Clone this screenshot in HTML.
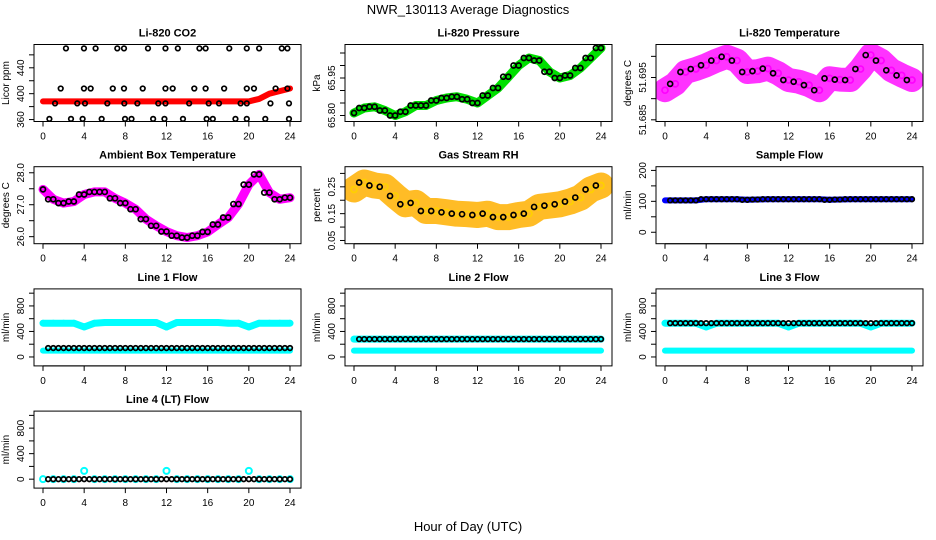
<!DOCTYPE html>
<html><head><meta charset="utf-8"><style>
html,body{margin:0;padding:0;background:#fff}
svg{display:block;font-family:"Liberation Sans",Arial,sans-serif}
</style></head><body>
<svg id="c" width="936" height="540" viewBox="0 0 936 540" xmlns="http://www.w3.org/2000/svg">
<defs id="defs"></defs>
<text x="468" y="14" font-size="13" text-anchor="middle">NWR_130113  Average Diagnostics</text>
<text x="468" y="531" font-size="13" text-anchor="middle">Hour of Day (UTC)</text>
</svg>
<script>
// ---- data ----
const hours = [0,1,2,3,4,5,6,7,8,9,10,11,12,13,14,15,16,17,18,19,20,21,22,23,24];
const xTicks = [0,4,8,12,16,20,24];

const co2RedV = [388,388,388,388,388,388,388,388,388,388,388,388,388,388,388,388,388,388,388,388,388,392,400,404,408];
const co2BlackT = [2.23,3.98,5.11,7.22,7.87,10.2,11.9,13.1,15.2,15.8,18.1,19.8,21.0,23.2,23.75,
 1.72,3.98,4.63,6.78,7.87,9.69,11.9,12.6,14.7,15.8,17.6,19.8,20.5,22.6,23.75,
 1.17,3.33,4.08,6.25,7.9,9.17,11.2,11.9,14.2,16.1,17.1,19.2,19.8,22.1,23.9,
 0.62,2.72,3.85,5.7,7.97,8.6,10.7,11.8,13.6,15.9,16.5,18.7,19.8,21.6,23.9];
const co2BlackV = [470,470,470,470,470,470,470,470,470,470,470,470,470,470,470,
 408,408,408,408,408,408,408,408,408,408,408,408,408,408,408,
 385,385,385,385,385,385,385,385,385,385,385,385,385,385,385,
 361,361,361,361,361,361,361,361,361,361,361,361,361,361,361];

const presV = [65.81,65.83,65.835,65.82,65.80,65.815,65.84,65.84,65.86,65.87,65.875,65.865,65.85,65.88,65.91,65.955,66.00,66.03,66.02,65.975,65.95,65.96,65.99,66.03,66.07];
const tempV = [51.692,51.6935,51.6963,51.697,51.6979,51.699,51.6999,51.699,51.6963,51.6965,51.6971,51.696,51.6944,51.694,51.6932,51.692,51.6948,51.6945,51.6944,51.697,51.7003,51.699,51.6967,51.6955,51.6944];
const ambV = [27.48,27.17,27.05,27.1,27.32,27.4,27.4,27.2,27.05,26.86,26.55,26.34,26.16,26.03,25.97,26.03,26.15,26.38,26.6,27.02,27.63,27.95,27.38,27.17,27.22];
const rhV = [0.24,0.266,0.255,0.25,0.216,0.185,0.19,0.16,0.16,0.155,0.15,0.148,0.145,0.15,0.137,0.137,0.145,0.15,0.175,0.18,0.185,0.195,0.21,0.24,0.255];
const sampleV = [103,103,103,103,107,107,107,107,105,106,107,107,107,107,107,107,105,106,107,107,107,107,107,107,107];
const l1CyanHi = [530,530,530,530,470,530,540,540,540,540,540,540,470,540,540,540,540,540,530,530,470,530,530,530,530];
const l1CyanLo = [100,100,100,100,100,100,100,100,100,100,100,100,100,100,100,100,100,100,100,100,100,100,100,100,100];
const l1Black = [140,140,140,140,140,140,140,140,140,140,140,140,140,140,140,140,140,140,140,140,140,140,140,140,140];
const l2CyanHi = [280,280,280,280,280,280,280,280,280,280,280,280,280,280,280,280,280,280,280,280,280,280,280,280,280];
const l2CyanLo = [100,100,100,100,100,100,100,100,100,100,100,100,100,100,100,100,100,100,100,100,100,100,100,100,100];
const l2Black = [280,280,280,280,280,280,280,280,280,280,280,280,280,280,280,280,280,280,280,280,280,280,280,280,280];
const l3CyanHi = [530,530,530,530,470,530,530,530,530,530,530,530,470,530,530,530,530,530,530,530,470,530,530,530,530];
const l3CyanLo = [100,100,100,100,100,100,100,100,100,100,100,100,100,100,100,100,100,100,100,100,100,100,100,100,100];
const l3Black = [530,530,530,530,530,530,530,530,530,530,530,530,530,530,530,530,530,530,530,530,530,530,530,530,530];
const l4Cyan = [0,0,0,0,130,0,0,0,0,0,0,0,130,0,0,0,0,0,0,0,130,0,0,0,0];
const l4Black = [0,0,0,0,0,0,0,0,0,0,0,0,0,0,0,0,0,0,0,0,0,0,0,0,0];

const flowTicks=[0,200,400,600,800,1000], flowLabels=[0,400,800];
const panels = [
 {name:'co2',title:'Li-820 CO2',yl:'Licor ppm',col:0,row:0,ylim:[357,476],ticks:[360,380,400,420,440,460],labels:[360,400,440],fmt:0},
 {name:'pressure',title:'Li-820 Pressure',yl:'kPa',col:1,row:0,ylim:[65.776,66.084],ticks:[65.80,65.85,65.90,65.95,66.00,66.05],labels:[65.80,65.95],fmt:2},
 {name:'temperature',title:'Li-820 Temperature',yl:'degrees C',col:2,row:0,ylim:[51.6846,51.7028],ticks:[51.685,51.69,51.695,51.70],labels:[51.685,51.695],fmt:3},
 {name:'ambient',title:'Ambient Box Temperature',yl:'degrees C',col:0,row:1,ylim:[25.78,28.19],ticks:[26,26.5,27,27.5,28],labels:[26,27,28],fmt:1},
 {name:'rh',title:'Gas Stream RH',yl:'percent',col:1,row:1,ylim:[0.038,0.325],ticks:[0.05,0.10,0.15,0.20,0.25,0.30],labels:[0.05,0.15,0.25],fmt:2},
 {name:'sample-flow',title:'Sample Flow',yl:'ml/min',col:2,row:1,ylim:[-37,212],ticks:[0,50,100,150,200],labels:[0,100,200],fmt:0},
 {name:'line1',title:'Line 1 Flow',yl:'ml/min',col:0,row:2,ylim:[-140,1067],ticks:flowTicks,labels:flowLabels,fmt:0},
 {name:'line2',title:'Line 2 Flow',yl:'ml/min',col:1,row:2,ylim:[-140,1067],ticks:flowTicks,labels:flowLabels,fmt:0},
 {name:'line3',title:'Line 3 Flow',yl:'ml/min',col:2,row:2,ylim:[-140,1067],ticks:flowTicks,labels:flowLabels,fmt:0},
 {name:'line4',title:'Line 4 (LT) Flow',yl:'ml/min',col:0,row:3,ylim:[-140,1067],ticks:flowTicks,labels:flowLabels,fmt:0}
];
const NS='http://www.w3.org/2000/svg';
const svg=document.getElementById('c');
const defs=document.getElementById('defs');
function mk(tag,attrs,parent){const e=document.createElementNS(NS,tag);for(const k in attrs)e.setAttribute(k,attrs[k]);(parent||svg).appendChild(e);return e;}

panels.forEach((p,i)=>{
 const L=[34,345,656][p.col], T=44.5+p.row*122.2, W=267, H=77;
 const g=mk('g',{});
 
 
 const cp=mk('clipPath',{id:'cp'+i},defs);
 mk('rect',{x:L,y:T,width:W,height:H},cp);
 p.g=mk('g',{'clip-path':'url(#cp'+i+')'},g);
 
 
 p.x=t=>L+9+t*(247/24);
 p.y=v=>T+H-(v-p.ylim[0])/(p.ylim[1]-p.ylim[0])*H;
 const ttl=mk('text',{x:L+W/2,y:T-8,'font-size':11,'font-weight':'bold','text-anchor':'middle'},g);ttl.textContent=p.title;
 
 
 const box=mk('rect',{x:L,y:T,width:W,height:H,fill:'none',stroke:'#000','stroke-width':1},g);
 
 
 const xa=mk('g',{},g);
 
 
 mk('line',{x1:p.x(0),x2:p.x(24),y1:T+H,y2:T+H,stroke:'#000'},xa);
 xTicks.forEach(t=>{mk('line',{x1:p.x(t),x2:p.x(t),y1:T+H,y2:T+H+5,stroke:'#000'},xa);
  const tx=mk('text',{x:p.x(t),y:T+H+18,'font-size':10,'text-anchor':'middle'},xa);tx.textContent=t;});
 const ya=mk('g',{},g);
 
 
 mk('line',{x1:L,x2:L,y1:p.y(p.ticks[0]),y2:p.y(p.ticks[p.ticks.length-1]),stroke:'#000'},ya);
 p.ticks.forEach(v=>mk('line',{x1:L-5,x2:L,y1:p.y(v),y2:p.y(v),stroke:'#000'},ya));
 p.labels.forEach(v=>{const yy=p.y(v);const tx=mk('text',{x:L-10,y:yy,'font-size':10,'text-anchor':'middle',transform:`rotate(-90 ${L-10} ${yy})`},ya);tx.textContent=v.toFixed(p.fmt);});
 const yt=mk('text',{x:L-25,y:T+H/2,'font-size':10,'text-anchor':'middle',transform:`rotate(-90 ${L-25} ${T+H/2})`},g);yt.textContent=p.yl;
 
 
});
function P(n){return panels.find(p=>p.name===n);}
function band(p,ts,vs,color,w,nm,op){
 const pts=ts.map((t,i)=>p.x(t).toFixed(1)+','+p.y(vs[i]).toFixed(1)).join(' ');
 const e=mk('polyline',{points:pts,fill:'none',stroke:color,'stroke-width':w,'stroke-linejoin':'round','stroke-linecap':'round',opacity:op||1},p.g);
 
 
}
function dots(p,ts,vs,color,r,nm,sw){
 const gg=mk('g',{},p.g);
 
 
 ts.forEach((t,i)=>mk('circle',{cx:p.x(t),cy:p.y(vs[i]),r:r,fill:'none',stroke:color,'stroke-width':sw||1.7},gg));
}
const hh=hours.slice(1).map(h=>h-0.5);
function mid(a){return a.slice(1);}

band(P('co2'),hours,co2RedV,'#ff0000',6,'co2-red-series');
dots(P('co2'),co2BlackT,co2BlackV,'#000',2.3,'co2-black-points');

band(P('pressure'),hours,presV,'#00e000',9,'pressure-green-series');
dots(P('pressure'),hours,presV,'#000',2.5,'pressure-black-points');
dots(P('pressure'),hh,mid(presV),'#000',2.5,'pressure-black-points-half');

band(P('temperature'),hours,tempV,'#ff00ff',24,'temperature-magenta-series',0.8);
dots(P('temperature'),hours,tempV,'#ff00ff',3,'temperature-magenta-points');
dots(P('temperature'),hh,mid(tempV),'#000',2.5,'temperature-black-points');

band(P('ambient'),hours,ambV,'#ff00ff',9,'ambient-magenta-series');
dots(P('ambient'),hours,ambV,'#000',2.5,'ambient-black-points');
dots(P('ambient'),hh,mid(ambV),'#000',2.5,'ambient-black-points-half');

band(P('rh'),hours,rhV,'#ffb000',26,'rh-orange-series',0.85);
dots(P('rh'),hours,rhV,'#ffd000',3,'rh-yellow-points');
dots(P('rh'),hh,mid(rhV),'#000',2.5,'rh-black-points');

band(P('sample-flow'),hours,sampleV,'#0000ff',6,'sample-flow-blue-series');
dots(P('sample-flow'),hh,mid(sampleV),'#000',2.3,'sample-flow-black-points');
dots(P('sample-flow'),hours.slice(1),mid(sampleV),'#000',2.3,'sample-flow-black-points-b');

[['line1',l1CyanHi,l1CyanLo,l1Black],['line2',l2CyanHi,l2CyanLo,l2Black],['line3',l3CyanHi,l3CyanLo,l3Black]].forEach(([n,hi,lo,bk])=>{
 const p=P(n);
 band(p,hours,hi,'#00ffff',7,n+'-cyan-high-series');
 dots(p,hours,hi,'#00ffff',2.5,n+'-cyan-high-points');
 band(p,hours,lo,'#00ffff',6,n+'-cyan-low-series');
 dots(p,hh,mid(bk),'#000',2.3,n+'-black-points');
 dots(p,hours.slice(1),mid(bk),'#000',2.3,n+'-black-points-b');
});
const p4=P('line4');
dots(p4,hours,l4Cyan,'#00ffff',3,'line4-cyan-points',2);
dots(p4,hh,mid(l4Black),'#000',2.3,'line4-black-points');
dots(p4,hours.slice(1),mid(l4Black),'#000',2.3,'line4-black-points-b');
</script>
</body></html>
